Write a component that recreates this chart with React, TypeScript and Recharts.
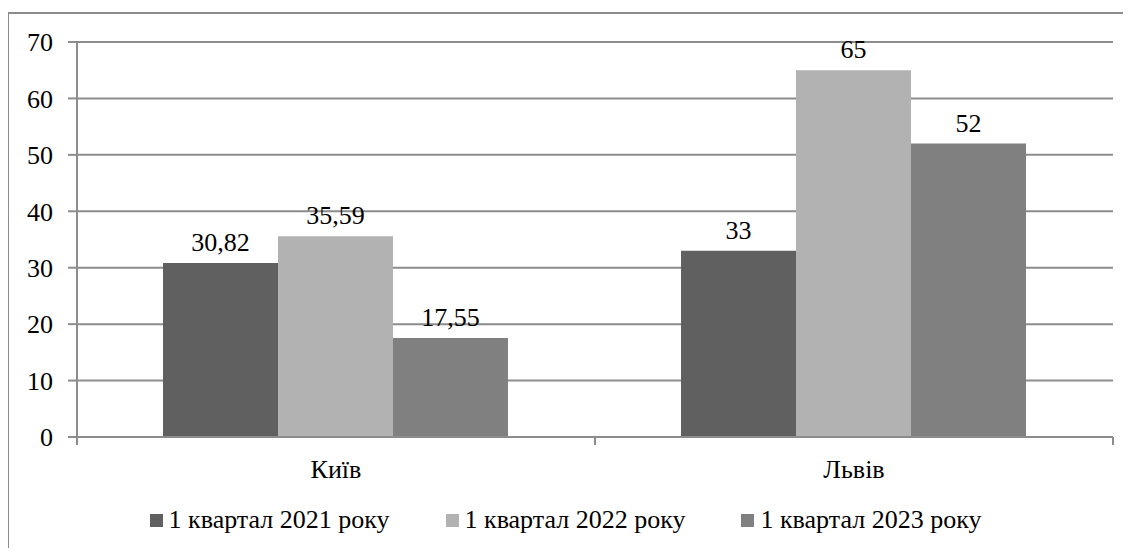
import React from 'react'
import {
  BarChart,
  Bar,
  XAxis,
  YAxis,
  CartesianGrid,
  LabelList,
} from 'recharts'

const cities = ['Київ', 'Львів']
const q2021 = [30.82, 33]
const q2022 = [35.59, 65]
const q2023 = [17.55, 52]
const yTicks = [0, 10, 20, 30, 40, 50, 60, 70]

const SERIES = [
  { key: 'q2021', name: '1 квартал 2021 року', color: '#606060' },
  { key: 'q2022', name: '1 квартал 2022 року', color: '#b2b2b2' },
  { key: 'q2023', name: '1 квартал 2023 року', color: '#808080' },
]

const data = cities.map((c, i) => ({
  city: c,
  q2021: q2021[i],
  q2022: q2022[i],
  q2023: q2023[i],
}))

const GRID = '#8c8c8c'

const fmt = (v: any) => String(v).replace('.', ',')

// category ticks sit between the groups, like the spreadsheet original
function CityTick(props: any) {
  const { x, y, payload } = props
  const half = payload?.offset ?? 0
  return (
    <g>
      <line x1={x - half} y1={y - 8} x2={x - half} y2={y} stroke={GRID} strokeWidth={2} />
      <line x1={x + half} y1={y - 8} x2={x + half} y2={y} stroke={GRID} strokeWidth={2} />
      <text x={x} y={y + 33} textAnchor="middle" fill="#000" fontSize={26} fontFamily="Liberation Serif">
        {payload.value}
      </text>
    </g>
  )
}

export default function App() {
  return (
    <div lang="uk" style={{ position: 'relative', width: 1115, height: 540, fontFamily: 'Liberation Serif' }}>
      <div
        style={{
          position: 'absolute',
          left: -1,
          top: 4,
          width: 1122,
          height: 540,
          borderLeft: `2px solid ${GRID}`,
          borderTop: `2px solid ${GRID}`,
        }}
      />
      <div style={{ position: 'absolute', left: -8, top: -8 }}>
        <BarChart
          width={1131}
          height={500}
          data={data}
          margin={{ top: 42, right: 18, left: 0, bottom: 0 }}
          barCategoryGap={86}
          barGap={0}
        >
          <CartesianGrid vertical={false} stroke={GRID} strokeWidth={2} />
          <XAxis
            dataKey="city"
            height={63}
            axisLine={{ stroke: GRID, strokeWidth: 2 }}
            tickLine={false}
            tick={<CityTick />}
            interval={0}
          />
          <YAxis
            domain={[0, 70]}
            ticks={yTicks}
            width={77}
            axisLine={{ stroke: GRID, strokeWidth: 2 }}
            tickLine={{ stroke: GRID, strokeWidth: 2 }}
            tickSize={9}
            tickMargin={15}
            tick={{ fill: '#000', fontSize: 26, fontFamily: 'Liberation Serif' }}
          />
          {SERIES.map((s) => (
            <Bar key={s.key} dataKey={s.key} name={s.name} fill={s.color} isAnimationActive={false}>
              <LabelList
                dataKey={s.key}
                position="top"
                offset={12}
                formatter={fmt}
                fill="#000"
                fontSize={26}
                fontFamily="Liberation Serif"
              />
            </Bar>
          ))}
        </BarChart>
      </div>
      <div
        style={{
          position: 'absolute',
          left: -8,
          top: 497,
          width: 1131,
          display: 'flex',
          justifyContent: 'center',
          gap: 56,
          fontSize: 26,
          fontFamily: 'Liberation Serif',
          color: '#000',
        }}
      >
        {SERIES.map((s) => (
          <div key={s.key} style={{ display: 'flex', alignItems: 'center' }}>
            <span style={{ width: 13, height: 13, background: s.color, marginRight: 6, display: 'inline-block' }} />
            {s.name}
          </div>
        ))}
      </div>
    </div>
  )
}
